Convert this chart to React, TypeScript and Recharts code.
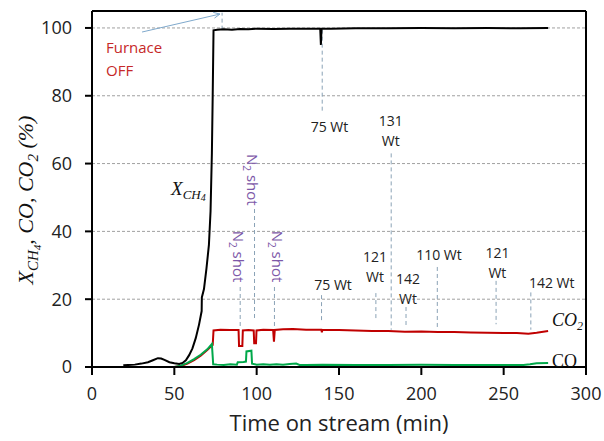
import { CartesianGrid, Line, LineChart, ReferenceDot, ReferenceLine, XAxis, YAxis } from 'recharts'

const xTicks = [0, 50, 100, 150, 200, 250, 300]
const yTicks = [0, 20, 40, 60, 80, 100]

// X_CH4 (black)
const xch4Time = [19, 22, 26, 30, 34, 37, 40, 42, 44, 47, 50, 53, 55, 57, 59, 61, 63, 65, 66.6, 66.7, 68, 69.5, 71, 72, 72.8, 73.3, 73.8, 76, 80, 85, 90, 95, 100, 110, 120, 130, 138.6, 139, 139.4, 145, 160, 180, 200, 220, 240, 260, 277]
const xch4Values = [0.5, 0.6, 0.7, 1.0, 1.4, 2.0, 2.6, 2.5, 2.1, 1.4, 1.1, 0.9, 1.2, 2.0, 3.5, 5.5, 8.5, 12.5, 16.5, 20.5, 23, 29, 36, 46, 63, 80, 99.3, 99.5, 99.6, 99.5, 99.7, 99.6, 99.8, 99.7, 99.8, 99.8, 99.8, 95, 99.8, 99.8, 99.9, 99.9, 100, 99.9, 100, 99.9, 100]

// CO2 (red)
const co2Time = [50, 54, 58, 62, 66, 70, 72.8, 73.3, 73.8, 78, 84, 89, 89.3, 91.3, 91.6, 95, 98.2, 98.5, 99.6, 99.9, 104, 110, 110.5, 111, 116, 122, 130, 139.3, 139.6, 139.9, 150, 160, 170, 180, 190, 200, 210, 220, 230, 240, 250, 258, 265, 270, 277]
const co2Values = [0, 0.3, 1.0, 2.0, 3.3, 5.0, 6.3, 6.5, 10.8, 11.0, 10.9, 10.9, 6.2, 6.2, 10.8, 10.9, 10.8, 7.0, 7.0, 10.8, 11.0, 10.9, 7.5, 10.9, 11.1, 11.2, 11.0, 11.0, 10.2, 11.0, 10.9, 10.8, 10.6, 10.6, 10.4, 10.5, 10.3, 10.3, 10.2, 10.1, 10.0, 10.0, 9.8, 10.1, 10.6]

// CO (green)
const coTime = [19, 50, 54, 58, 62, 66, 70, 72.8, 73.6, 76, 80, 84, 88, 88.5, 92, 93.5, 93.8, 96.8, 97.2, 100, 104, 108, 112, 116, 120, 124, 126, 130, 140, 160, 180, 200, 220, 240, 262, 266, 270, 277]
const coValues = [0, 0, 0.4, 1.2, 2.3, 3.6, 5.2, 6.8, 0.8, 0.7, 0.6, 0.8, 0.7, 1.4, 1.5, 1.6, 4.6, 4.8, 1.0, 0.7, 0.8, 0.7, 0.8, 0.7, 0.9, 1.0, 0.6, 0.6, 0.7, 0.6, 0.6, 0.7, 0.6, 0.6, 0.6, 0.8, 1.1, 1.2]

// dashed event markers (time, from value, to value)
const markerLines = [
  { t: 79, from: 99.5, to: 104.5 },
  { t: 139.8, from: 99.5, to: 75.3 },
  { t: 181.7, from: 63, to: 11 },
  { t: 172.4, from: 21.8, to: 13.9 },
  { t: 190.7, from: 17.7, to: 11.8 },
  { t: 209.7, from: 29.5, to: 11.5 },
  { t: 245.4, from: 25.4, to: 12.6 },
  { t: 266.5, from: 22, to: 11 },
  { t: 139.4, from: 21.2, to: 13.2 },
  { t: 98.7, from: 46.6, to: 14.2 },
  { t: 90, from: 23.6, to: 11.5 },
  { t: 110.8, from: 23.6, to: 11.8 },
]

const powerLabels = [
  { t: 144.2, v: 70.8, text: ['75 Wt'] },
  { t: 181.4, v: 69.7, text: ['131', 'Wt'] },
  { t: 171.9, v: 29.5, text: ['121', 'Wt'] },
  { t: 191.9, v: 22.9, text: ['142', 'Wt'] },
  { t: 210.7, v: 33.0, text: ['110 Wt'] },
  { t: 246.2, v: 30.7, text: ['121', 'Wt'] },
  { t: 279.2, v: 24.8, text: ['142 Wt'] },
  { t: 146.4, v: 24.2, text: ['75 Wt'] },
]

const n2Labels = [
  { t: 97.2, v: 55.2 },
  { t: 88.8, v: 32.6 },
  { t: 112.2, v: 32.6 },
]

const toRows = (ts: number[], vs: number[]) => ts.map((t, i) => ({ t, v: vs[i] }))
const xch4Data = toRows(xch4Time, xch4Values)
const co2Data = toRows(co2Time, co2Values)
const coData = toRows(coTime, coValues)

const SANS = '"Open Sans", Arial, sans-serif'
const SERIF = '"Liberation Serif", "Times New Roman", serif'
const MARK = '#8aa2b6'
const ARROW = '#7fa9cc'

function MultiLine({ cx, cy, lines, color, size, gap, anchor = 'middle' }: any) {
  const top = cy - ((lines.length - 1) * gap) / 2
  return (
    <text fill={color} fontSize={size} fontFamily={SANS} textAnchor={anchor}>
      {lines.map((s: string, i: number) => (
        <tspan key={i} x={cx} y={top + i * gap + size * 0.35}>
          {s}
        </tspan>
      ))}
    </text>
  )
}

function N2Shot({ cx, cy }: any) {
  return (
    <text
      x={cx}
      y={cy + 5}
      transform={`rotate(90 ${cx} ${cy})`}
      fill="#7d58a8"
      fontSize={15}
      fontFamily={SANS}
      textAnchor="middle"
    >
      N<tspan dy={4} fontSize={10}>2</tspan>
      <tspan dy={-4}> shot</tspan>
    </text>
  )
}

export default function App() {
  return (
    <div style={{ position: 'absolute', left: 0, top: 0, background: '#fff' }}>
      <LineChart width={604} height={441} margin={{ top: 11, right: 18, bottom: 44, left: 32 }}>
        <CartesianGrid vertical={false} stroke="#a0a0a0" strokeDasharray="3 2" />
        <XAxis
          type="number"
          dataKey="t"
          domain={[0, 300]}
          ticks={xTicks}
          height={30}
          axisLine={{ stroke: '#000', strokeWidth: 2 }}
          tickLine={{ stroke: '#000', strokeWidth: 2 }}
          tickSize={8}
          tickMargin={12}
          tick={{ fill: '#222', fontSize: 18, fontFamily: SANS }}
          allowDataOverflow
          label={{
            content: () => (
              <text x={339} y={431} textAnchor="middle" fill="#222" fontSize={22} fontFamily={SANS}>
                Time on stream (min)
              </text>
            ),
          }}
        />
        <YAxis
          type="number"
          domain={[0, 105]}
          ticks={yTicks}
          width={60}
          axisLine={{ stroke: '#000', strokeWidth: 2 }}
          tickLine={{ stroke: '#000', strokeWidth: 2 }}
          tickSize={7}
          tickMargin={13}
          tick={{ fill: '#222', fontSize: 18, fontFamily: SANS }}
          allowDataOverflow
          label={{
            content: () => (
              <text
                x={33}
                y={200}
                transform="rotate(-90 33 200)"
                textAnchor="middle"
                fill="#111"
                fontSize={22}
                fontStyle="italic"
                fontFamily={SERIF}
              >
                X<tspan dy={5} fontSize={15}>CH</tspan>
                <tspan dy={3} fontSize={11}>4</tspan>
                <tspan dy={-8} fontSize={22}>, CO, CO</tspan>
                <tspan dy={5} fontSize={15}>2</tspan>
                <tspan dy={-5} fontSize={22}> (%)</tspan>
              </text>
            ),
          }}
        />
        <ReferenceLine y={105} stroke="#000" strokeWidth={2} />
        <ReferenceLine x={300} stroke="#000" strokeWidth={2} />

        {markerLines.map((m, i) => (
          <ReferenceLine
            key={`m${i}`}
            segment={[
              { x: m.t, y: m.from },
              { x: m.t, y: m.to },
            ]}
            stroke={MARK}
            strokeDasharray="4 3"
            strokeWidth={1}
            ifOverflow="visible"
          />
        ))}

        <ReferenceLine segment={[{ x: 30.4, y: 98.8 }, { x: 77.7, y: 104.1 }]} stroke={ARROW} strokeWidth={1} ifOverflow="visible" />
        <ReferenceLine segment={[{ x: 73.6, y: 104.6 }, { x: 77.7, y: 104.1 }]} stroke={ARROW} strokeWidth={1} ifOverflow="visible" />
        <ReferenceLine segment={[{ x: 74.4, y: 102.9 }, { x: 77.7, y: 104.1 }]} stroke={ARROW} strokeWidth={1} ifOverflow="visible" />

        <Line data={co2Data} dataKey="v" type="linear" stroke="#c00000" strokeWidth={2} dot={false} isAnimationActive={false} />
        <Line data={coData} dataKey="v" type="linear" stroke="#00a84a" strokeWidth={2} dot={false} isAnimationActive={false} />
        <Line data={xch4Data} dataKey="v" type="linear" stroke="#000" strokeWidth={2} dot={false} isAnimationActive={false} />

        {powerLabels.map((l, i) => (
          <ReferenceDot
            key={`p${i}`}
            x={l.t}
            y={l.v}
            r={0}
            ifOverflow="visible"
            shape={(p: any) => <MultiLine cx={p.cx} cy={p.cy} lines={l.text} color="#222" size={14} gap={20} />}
          />
        ))}
        {n2Labels.map((l, i) => (
          <ReferenceDot key={`n${i}`} x={l.t} y={l.v} r={0} ifOverflow="visible" shape={(p: any) => <N2Shot cx={p.cx} cy={p.cy} />} />
        ))}
        <ReferenceDot
          x={8.5}
          y={90.7}
          r={0}
          ifOverflow="visible"
          shape={(p: any) => <MultiLine cx={p.cx} cy={p.cy} lines={['Furnace', 'OFF']} color="#c62828" size={15} gap={23} anchor="start" />}
        />
        <ReferenceDot
          x={48}
          y={52.5}
          r={0}
          ifOverflow="visible"
          shape={(p: any) => (
            <text x={p.cx} y={p.cy + 6} fill="#111" fontSize={19} fontStyle="italic" fontFamily={SERIF}>
              X<tspan dy={4} fontSize={13}>CH</tspan>
              <tspan dy={2} fontSize={10}>4</tspan>
            </text>
          )}
        />
        <ReferenceDot
          x={279.3}
          y={13.9}
          r={0}
          ifOverflow="visible"
          shape={(p: any) => (
            <text x={p.cx} y={p.cy + 6} fill="#111" fontSize={18} fontStyle="italic" fontFamily={SERIF}>
              CO<tspan dy={4} fontSize={12}>2</tspan>
            </text>
          )}
        />
        <ReferenceDot
          x={279.3}
          y={1.8}
          r={0}
          ifOverflow="visible"
          shape={(p: any) => (
            <text x={p.cx} y={p.cy + 6} fill="#111" fontSize={18} fontFamily={SERIF}>
              CO
            </text>
          )}
        />
      </LineChart>
    </div>
  )
}
